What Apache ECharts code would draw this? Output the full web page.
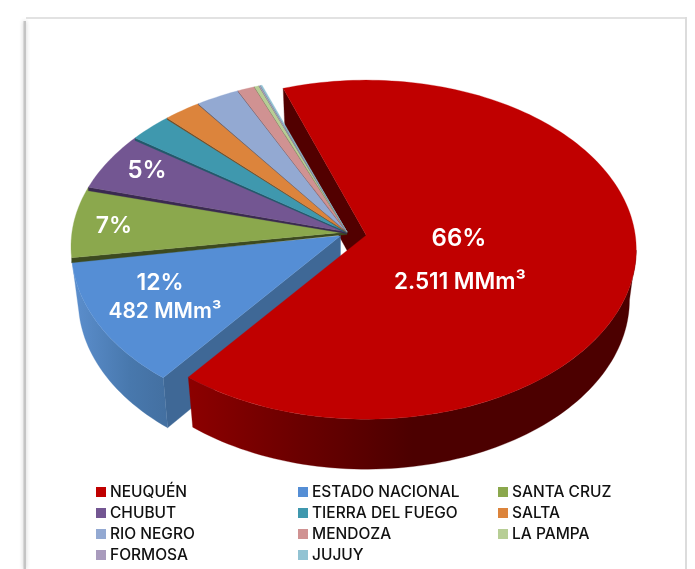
<!DOCTYPE html>
<html>
<head>
<meta charset="utf-8">
<style>
  html, body { margin: 0; padding: 0; background: #fff; }
  #chart { width: 695px; height: 569px; }
</style>
<script src="https://cdn.jsdelivr.net/npm/echarts@6/dist/echarts.min.js"></script>
</head>
<body>
<div id="chart"></div>
<script>
// values in percent
const provinces = ["NEUQUÉN", "ESTADO NACIONAL", "SANTA CRUZ", "CHUBUT", "TIERRA DEL FUEGO", "SALTA", "RIO NEGRO", "MENDOZA", "LA PAMPA", "FORMOSA", "JUJUY"];
const shares = [66, 12, 6.8, 5.6, 2.8, 2.4, 2.8, 1.1, 0.3, 0.1, 0.1];

const topColors = ["#c00000", "#558ed5", "#8ba84d", "#735692", "#3f98ae", "#dc843c", "#93a9d2", "#d09292", "#b7ce95", "#a99bbd", "#92c3d3"];
const edgeColors = ["#520000", "#3f6896", "#3c4a20", "#3a2a50", "#22596a", "#7a4a20", "#4d5c7c", "#7a5555", "#6b7c55", "#6a5f7a", "#5a8090"];
const edgeDepths = [0, 0, 5, 3.5, 2.5, 1.5, 1.2, 1, 0.8, 0.5, 0.5];

const legendColumns = [
  { left: 96, names: ["NEUQUÉN", "CHUBUT", "RIO NEGRO", "FORMOSA"] },
  { left: 298, names: ["ESTADO NACIONAL", "TIERRA DEL FUEGO", "MENDOZA", "JUJUY"] },
  { left: 498, names: ["SANTA CRUZ", "SALTA", "LA PAMPA"] },
];

// pie geometry: a tilted circle seen in perspective, the near side comes out bigger
const center = { x: 347, y: 232 };
const startAngle = -19.5;
const radiusY = 168.3;
const perspective = 0.0856;
const depth = 50;
const depthShrink = 0.975;
const explode = [19.5, 7.5, 0, 0, 0, 0, 0, 0, 0, 0, 0];
const radiusX = [269, 268, 275, 275, 275, 275, 275, 275, 275, 275, 275];

const totalShare = shares.reduce((acc, v) => acc + v, 0);

function sliceAngles(index) {
  const before = shares.slice(0, index).reduce((acc, v) => acc + v, 0);
  const from = startAngle + (before / totalShare) * 360;
  return [from, from + (shares[index] / totalShare) * 360];
}

function sliceCenter(index) {
  const [a, b] = sliceAngles(index);
  const mid = (((a + b) / 2) * Math.PI) / 180;
  return {
    x: center.x + explode[index] * Math.sin(mid),
    y: center.y - explode[index] * Math.cos(mid),
  };
}

function rimPoint(index, angle, lowered) {
  const c = sliceCenter(index);
  const rad = (angle * Math.PI) / 180;
  const w = 1 + perspective * Math.cos(rad);
  const k = lowered ? depthShrink : 1;
  return [
    c.x + ((radiusX[index] * Math.sin(rad)) / w) * k,
    c.y - (radiusY * Math.cos(rad)) / w + (lowered ? depth : 0),
  ];
}

function arcPoints(index, from, to, lowered) {
  const steps = Math.max(2, Math.ceil(Math.abs(to - from) / 1.5));
  const pts = [];
  for (let i = 0; i <= steps; i++) {
    pts.push(rimPoint(index, from + ((to - from) * i) / steps, lowered));
  }
  return pts;
}

function polygon(points, fill) {
  return { type: "polygon", shape: { points }, style: { fill, stroke: fill, lineWidth: 0.3 } };
}

function gradient(x1, x2, stops) {
  return new echarts.graphic.LinearGradient(x1, 0, x2, 0, stops, true);
}

// outer walls of the two big slices and the radial walls that stay visible
function renderSides() {
  const [redFrom, redTo] = sliceAngles(0);
  const [blueFrom, blueTo] = sliceAngles(1);
  const red = sliceCenter(0);
  const blue = sliceCenter(1);
  const redRim = [...arcPoints(0, 95, redTo, false), ...arcPoints(0, redTo, 95, true)];
  const blueRim = [...arcPoints(1, blueFrom, blueTo, false), ...arcPoints(1, blueTo, blueFrom, true)];
  return {
    type: "group",
    children: [
      polygon([rimPoint(0, redFrom, false), [red.x, red.y], [red.x, red.y + depth], rimPoint(0, redFrom, true)], edgeColors[0]),
      polygon([rimPoint(1, blueFrom, false), [blue.x, blue.y], [blue.x, blue.y + depth], rimPoint(1, blueFrom, true)], edgeColors[1]),
      polygon(blueRim, gradient(72, 200, [
        { offset: 0, color: "#5c8fce" },
        { offset: 0.45, color: "#4878ad" },
        { offset: 1, color: "#3f6896" },
      ])),
      polygon(redRim, gradient(190, 636, [
        { offset: 0, color: "#8c0000" },
        { offset: 0.25, color: "#6a0000" },
        { offset: 0.5, color: "#4c0000" },
        { offset: 1, color: "#4c0000" },
      ])),
    ],
  };
}

function renderSlice(index) {
  const [from, to] = sliceAngles(index);
  const c = sliceCenter(index);
  const children = [];
  const edge = edgeDepths[index];
  if (edge > 0) {
    const p = rimPoint(index, from, false);
    children.push(polygon([p, [c.x, c.y], [c.x, c.y + edge * 0.5], [p[0], p[1] + edge]], edgeColors[index]));
  }
  children.push(polygon([[c.x, c.y], ...arcPoints(index, from, to, false)], topColors[index]));
  return { type: "group", children };
}

const chart = echarts.init(document.getElementById("chart"), null, { renderer: "canvas" });

function label(text, x, y, fontSize) {
  return {
    type: "text",
    x,
    y,
    z: 100,
    silent: true,
    style: {
      text,
      fill: "#fff",
      font: `600 ${fontSize}px Inter`,
      textAlign: "center",
      textVerticalAlign: "middle",
    },
  };
}

chart.setOption({
  animation: false,
  backgroundColor: "#fff",
  legend: legendColumns.map((col) => ({
    orient: "vertical",
    left: col.left,
    top: 484,
    data: col.names,
    icon: "rect",
    itemWidth: 10,
    itemHeight: 10,
    itemGap: 5,
    padding: 0,
    selectedMode: false,
    textStyle: { color: "#111", fontFamily: "Inter", fontWeight: 500, fontSize: 15.5, padding: [0, 0, 0, -1] },
  })),
  graphic: [
    // frame of the pasted picture
    { type: "rect", silent: true, z: 0, shape: { x: 23.5, y: 21, width: 2.5, height: 548 }, style: { fill: "#c4c4c4", shadowBlur: 4, shadowColor: "#c8c8c8" } },
    { type: "rect", silent: true, z: 0, shape: { x: 26, y: 17, width: 660, height: 2 }, style: { fill: "#e2e2e2" } },
    { type: "rect", silent: true, z: 0, shape: { x: 685, y: 17, width: 2, height: 552 }, style: { fill: "#dcdcdc" } },
    label("66%", 459, 239, 24),
    label("2.511 MMm³", 460, 282, 22.5),
    label("12%", 160, 283, 23),
    label("482 MMm³", 165, 312, 21),
    label("7%", 114, 226, 23),
    label("5%", 147, 171, 24),
  ],
  series: [
    {
      type: "custom",
      name: "sides",
      coordinateSystem: "none",
      silent: true,
      z: 1,
      data: [[0]],
      renderItem: renderSides,
    },
    ...provinces.map((name, index) => ({
      type: "custom",
      name,
      coordinateSystem: "none",
      silent: true,
      z: 2 + index,
      itemStyle: { color: topColors[index] },
      data: [[shares[index]]],
      renderItem: () => renderSlice(index),
    })),
  ],
});
</script>
</body>
</html>
